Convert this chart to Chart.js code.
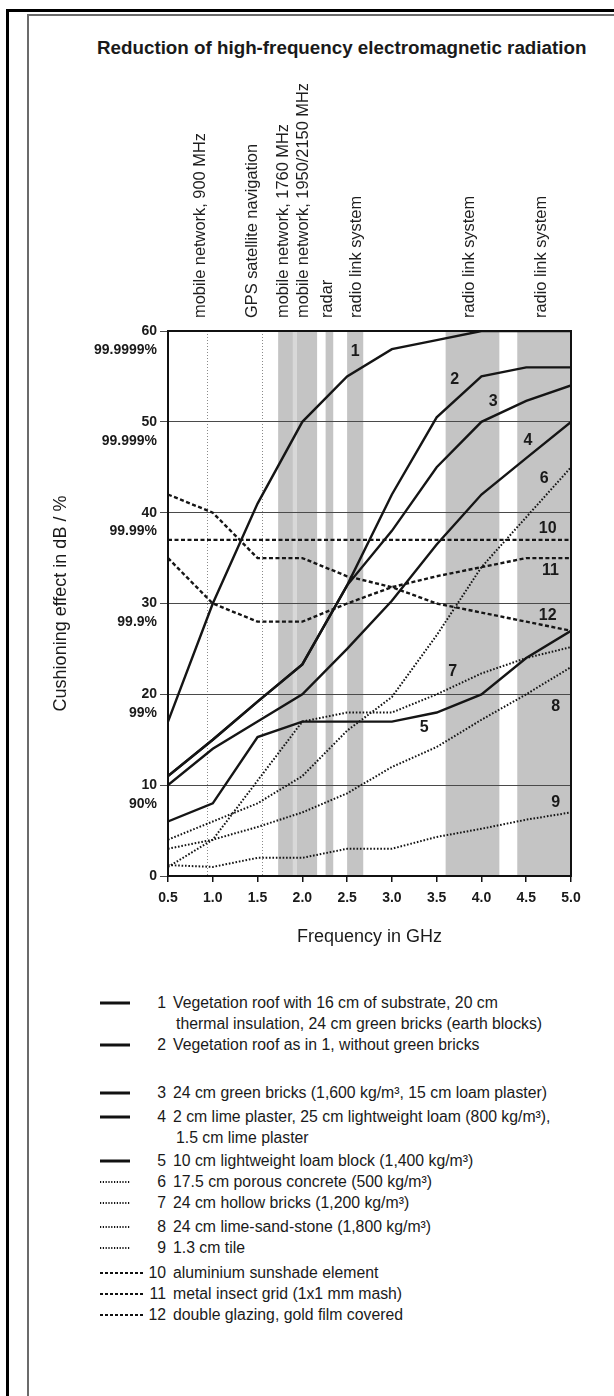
<!DOCTYPE html>
<html><head><meta charset="utf-8">
<script src="https://cdn.jsdelivr.net/npm/chart.js@4.4.1/dist/chart.umd.min.js"></script>
<style>
html,body{margin:0;padding:0;background:#fff;}
body{width:614px;height:1396px;position:relative;overflow:hidden;font-family:'Liberation Sans',Arial,sans-serif;color:#1a1a1a;}
.fr{position:absolute;}
#fOT{left:6px;top:9px;right:0;height:3px;background:#000;}
#fOL{left:6px;top:9px;width:3px;bottom:0;background:#000;}
#fIT{left:27px;top:14px;right:0;height:2px;background:#6b6b6b;}
#fIL{left:27px;top:14px;width:2px;bottom:0;background:#6b6b6b;}
#title{position:absolute;left:97px;top:35px;white-space:nowrap;font-weight:bold;font-size:18.8px;line-height:26px;}
#chart{position:absolute;left:0;top:0;}
#legend{position:absolute;left:100px;top:992px;width:500px;}
.row{position:relative;height:21px;line-height:21px;font-size:15.8px;white-space:nowrap;}
.row svg{position:absolute;left:0;top:6px;}
.row .num{position:absolute;left:0;width:66px;text-align:right;}
.row .txt{position:absolute;left:73px;}
.row.cont .txt{left:76px;}
</style></head>
<body>
<div class="fr" id="fOT"></div><div class="fr" id="fOL"></div>
<div class="fr" id="fIT"></div><div class="fr" id="fIL"></div>
<div id="title">Reduction of high-frequency electromagnetic radiation</div>
<canvas id="chart" width="614" height="960"></canvas>
<div id="legend"></div>
<script>
// ---- data ----
const freqs = [0.5, 1.0, 1.5, 2.0, 2.5, 3.0, 3.5, 4.0, 4.5, 5.0];
const s1  = [17, 30, 41, 50, 55, 58, 59, 60, 60, 60];
const s2  = [11, 15, 19.2, 23.3, 32, 42, 50.5, 55, 56, 56];
const s3  = [11, 15, 19.2, 23.3, 32, 38, 45, 50, 52.3, 54];
const s4  = [10, 14, 17, 20, 25, 30.3, 36.5, 42, 46, 50];
const s5  = [6, 8, 15.3, 17, 17, 17, 18, 20, 24, 27];
const s6  = [4, 6, 8, 11, 16, 19.7, 26.5, 34, 39.5, 45];
const s7  = [1, 4, 10.5, 17, 18, 18, 20, 22.3, 24, 25.2];
const s8  = [3, 4, 5.4, 7, 9.1, 12, 14.2, 17.2, 20, 23];
const s9  = [1.2, 1, 2, 2, 3, 3, 4.3, 5.2, 6.2, 7];
const s10 = [37, 37, 37, 37, 37, 37, 37, 37, 37, 37];
const s11 = [35, 30, 28, 28, 30, 31.8, 33, 34, 35, 35];
const s12 = [42, 40, 35, 35, 33, 31.8, 30, 29, 28, 27];
const seriesValues = [s1, s2, s3, s4, s5, s6, s7, s8, s9, s10, s11, s12];
const seriesNums = ['1','2','3','4','5','6','7','8','9','10','11','12'];
const seriesKinds = ['solid','solid','solid','solid','solid','dot','dot','dot','dot','dash','dash','dash'];
const legendTexts = [
  ['Vegetation roof with 16  cm of substrate, 20 cm', 'thermal insulation, 24 cm green bricks (earth blocks)'],
  ['Vegetation roof as in 1, without green bricks'],
  ['24 cm green bricks (1,600 kg/m³, 15 cm loam plaster)'],
  ['2 cm lime plaster, 25 cm lightweight loam (800 kg/m³),', '1.5 cm lime plaster'],
  ['10 cm lightweight loam block (1,400 kg/m³)'],
  ['17.5 cm porous concrete (500 kg/m³)'],
  ['24 cm hollow bricks (1,200 kg/m³)'],
  ['24 cm lime-sand-stone (1,800 kg/m³)'],
  ['1.3 cm tile'],
  ['aluminium sunshade element'],
  ['metal insect grid (1x1 mm mash)'],
  ['double glazing, gold film covered']
];
// curve number labels (data coordinates)
const curveLabelX = [2.59, 3.70, 4.13, 4.52, 3.36, 4.70, 3.68, 4.83, 4.83, 4.74, 4.77, 4.74];
const curveLabelY = [57.7, 54.6, 52.2, 47.9, 16.3, 43.7, 22.5, 18.7, 8.1, 38.2, 33.6, 28.7];
// y tick labels
const yTickValues = [0, 10, 20, 30, 40, 50, 60];
const yTickPct = ['', '90%', '99%', '99.9%', '99.99%', '99.999%', '99.9999%'];
const xTickValues = [0.5, 1.0, 1.5, 2.0, 2.5, 3.0, 3.5, 4.0, 4.5, 5.0];
// frequency bands (GHz)
const bandStart = [1.73, 1.94, 2.26, 2.5, 3.6, 4.4];
const bandEnd   = [1.895, 2.165, 2.345, 2.68, 4.2, 5.0];
const lightBandStart = [1.895];
const lightBandEnd = [1.94];
const markerFreqs = [0.93, 1.55];
const bandLabels = ['mobile network, 900 MHz', 'GPS satellite navigation', 'mobile network, 1760 MHz',
  'mobile network, 1950/2150 MHz', 'radar', 'radio link system', 'radio link system', 'radio link system'];
const bandLabelPos = [0.86, 1.44, 1.79, 2.01, 2.28, 2.6, 3.87, 4.67];

// ---- styles ----
const FONT = "'Liberation Sans',Arial,sans-serif";
const kindStyle = {
  solid: {width: 2.4, dash: []},
  dot:   {width: 2, dash: [1.6, 1.8]},
  dash:  {width: 2.4, dash: [4, 2.5]}
};

const datasets = seriesValues.map((vals, i) => {
  const st = kindStyle[seriesKinds[i]];
  return {
    label: seriesNums[i],
    data: freqs.map((f, j) => ({x: f, y: vals[j]})),
    borderColor: '#151515',
    borderWidth: st.width,
    borderDash: st.dash,
    pointRadius: 0,
    tension: 0,
    fill: false
  };
});

const decor = {
  id: 'decor',
  beforeDraw(chart) {
    const {ctx, chartArea: a, scales: {x}} = chart;
    ctx.save();
    ctx.fillStyle = '#c4c4c4';
    bandStart.forEach((b, i) => {
      const x0 = x.getPixelForValue(b), x1 = x.getPixelForValue(bandEnd[i]);
      ctx.fillRect(x0, a.top, x1 - x0, a.bottom - a.top);
    });
    ctx.fillStyle = '#d8d8d8';
    lightBandStart.forEach((b, i) => {
      const x0 = x.getPixelForValue(b), x1 = x.getPixelForValue(lightBandEnd[i]);
      ctx.fillRect(x0, a.top, x1 - x0, a.bottom - a.top);
    });
    ctx.strokeStyle = '#8a8a8a';
    ctx.lineWidth = 1;
    ctx.setLineDash([1, 2]);
    markerFreqs.forEach(m => {
      const px = Math.round(x.getPixelForValue(m)) + 0.5;
      ctx.beginPath(); ctx.moveTo(px, a.top); ctx.lineTo(px, a.bottom); ctx.stroke();
    });
    ctx.restore();
  },
  afterDatasetsDraw(chart) {
    const {ctx, chartArea: a, scales: {x, y}} = chart;
    ctx.save();
    // plot frame
    ctx.strokeStyle = '#111';
    ctx.lineWidth = 2;
    ctx.strokeRect(a.left, a.top, a.right - a.left, a.bottom - a.top);
    // curve numbers
    ctx.fillStyle = '#1a1a1a';
    ctx.font = "bold 16px " + FONT;
    ctx.textAlign = 'center';
    ctx.textBaseline = 'middle';
    seriesNums.forEach((n, i) => {
      ctx.fillText(n, x.getPixelForValue(curveLabelX[i]), y.getPixelForValue(curveLabelY[i]));
    });
    // band labels (rotated)
    ctx.font = "16.4px " + FONT;
    ctx.textAlign = 'left';
    ctx.fillStyle = '#1e1e1e';
    bandLabels.forEach((t, i) => {
      ctx.save();
      ctx.translate(x.getPixelForValue(bandLabelPos[i]), a.top - 13);
      ctx.rotate(-Math.PI / 2);
      ctx.fillText(t, 0, 0);
      ctx.restore();
    });
    ctx.restore();
  }
};

new Chart(document.getElementById('chart'), {
  type: 'line',
  data: {datasets},
  plugins: [decor],
  options: {
    responsive: false,
    animation: false,
    layout: {padding: {left: 0, top: 331, right: 43, bottom: 0}},
    plugins: {legend: {display: false}, tooltip: {enabled: false}, title: {display: false}},
    scales: {
      x: {
        type: 'linear', min: 0.5, max: 5.0,
        afterBuildTicks: s => { s.ticks = xTickValues.map(v => ({value: v})); },
        afterFit: s => { s.height = 84; },
        ticks: {
          callback: v => Number(v).toFixed(1),
          font: {family: FONT, size: 14, weight: 'bold'}, color: '#1a1a1a',
          padding: 8, maxRotation: 0, autoSkip: false
        },
        grid: {drawOnChartArea: false, drawTicks: true, tickLength: 6, color: '#111', lineWidth: 1.5},
        border: {display: true, color: '#111', width: 2},
        title: {display: true, text: 'Frequency in GHz', font: {family: FONT, size: 18}, color: '#1a1a1a',
                padding: {top: 0, bottom: 12}}
      },
      y: {
        type: 'linear', min: 0, max: 60,
        afterBuildTicks: s => { s.ticks = yTickValues.map(v => ({value: v})); },
        afterFit: s => { s.width = 168; },
        ticks: {
          callback: (v) => [String(v), yTickPct[yTickValues.indexOf(v)]],
          font: {family: FONT, size: 14, weight: 'bold', lineHeight: 1.35}, color: '#1a1a1a',
          padding: 3, labelOffset: 9.45, autoSkip: false
        },
        grid: {color: '#4a4a4a', lineWidth: 1, tickLength: 8, drawTicks: true},
        border: {display: true, color: '#111', width: 2},
        title: {display: true, text: 'Cushioning effect in dB / %', font: {family: FONT, size: 18}, color: '#1a1a1a',
                padding: {top: 50, bottom: 0}}
      }
    }
  }
});

// ---- legend (HTML) ----
const legendGap = [0, 0, 27, 3, 2, 0, 0, 3, 0, 4, 0, 0];
const legendEl = document.getElementById('legend');
seriesNums.forEach((n, i) => {
  const kind = seriesKinds[i];
  const len = kind === 'dash' ? 45 : 30;
  const sw = kind === 'solid' ? 3 : 2.2;
  const dashAttr = kind === 'dot' ? 'stroke-dasharray="1.2 1.6"' : (kind === 'dash' ? 'stroke-dasharray="3 2"' : '');
  legendTexts[i].forEach((line, k) => {
    const row = document.createElement('div');
    row.className = 'row' + (k > 0 ? ' cont' : '');
    if (k === 0) row.style.marginTop = legendGap[i] + 'px';
    let html = '';
    if (k === 0) {
      html += `<svg width="${len}" height="10"><line x1="0" y1="5" x2="${len}" y2="5" stroke="#111" stroke-width="${sw}" ${dashAttr}/></svg>`;
      html += `<span class="num">${n}</span>`;
    }
    html += `<span class="txt">${line}</span>`;
    row.innerHTML = html;
    legendEl.appendChild(row);
  });
});
</script>
</body></html>
